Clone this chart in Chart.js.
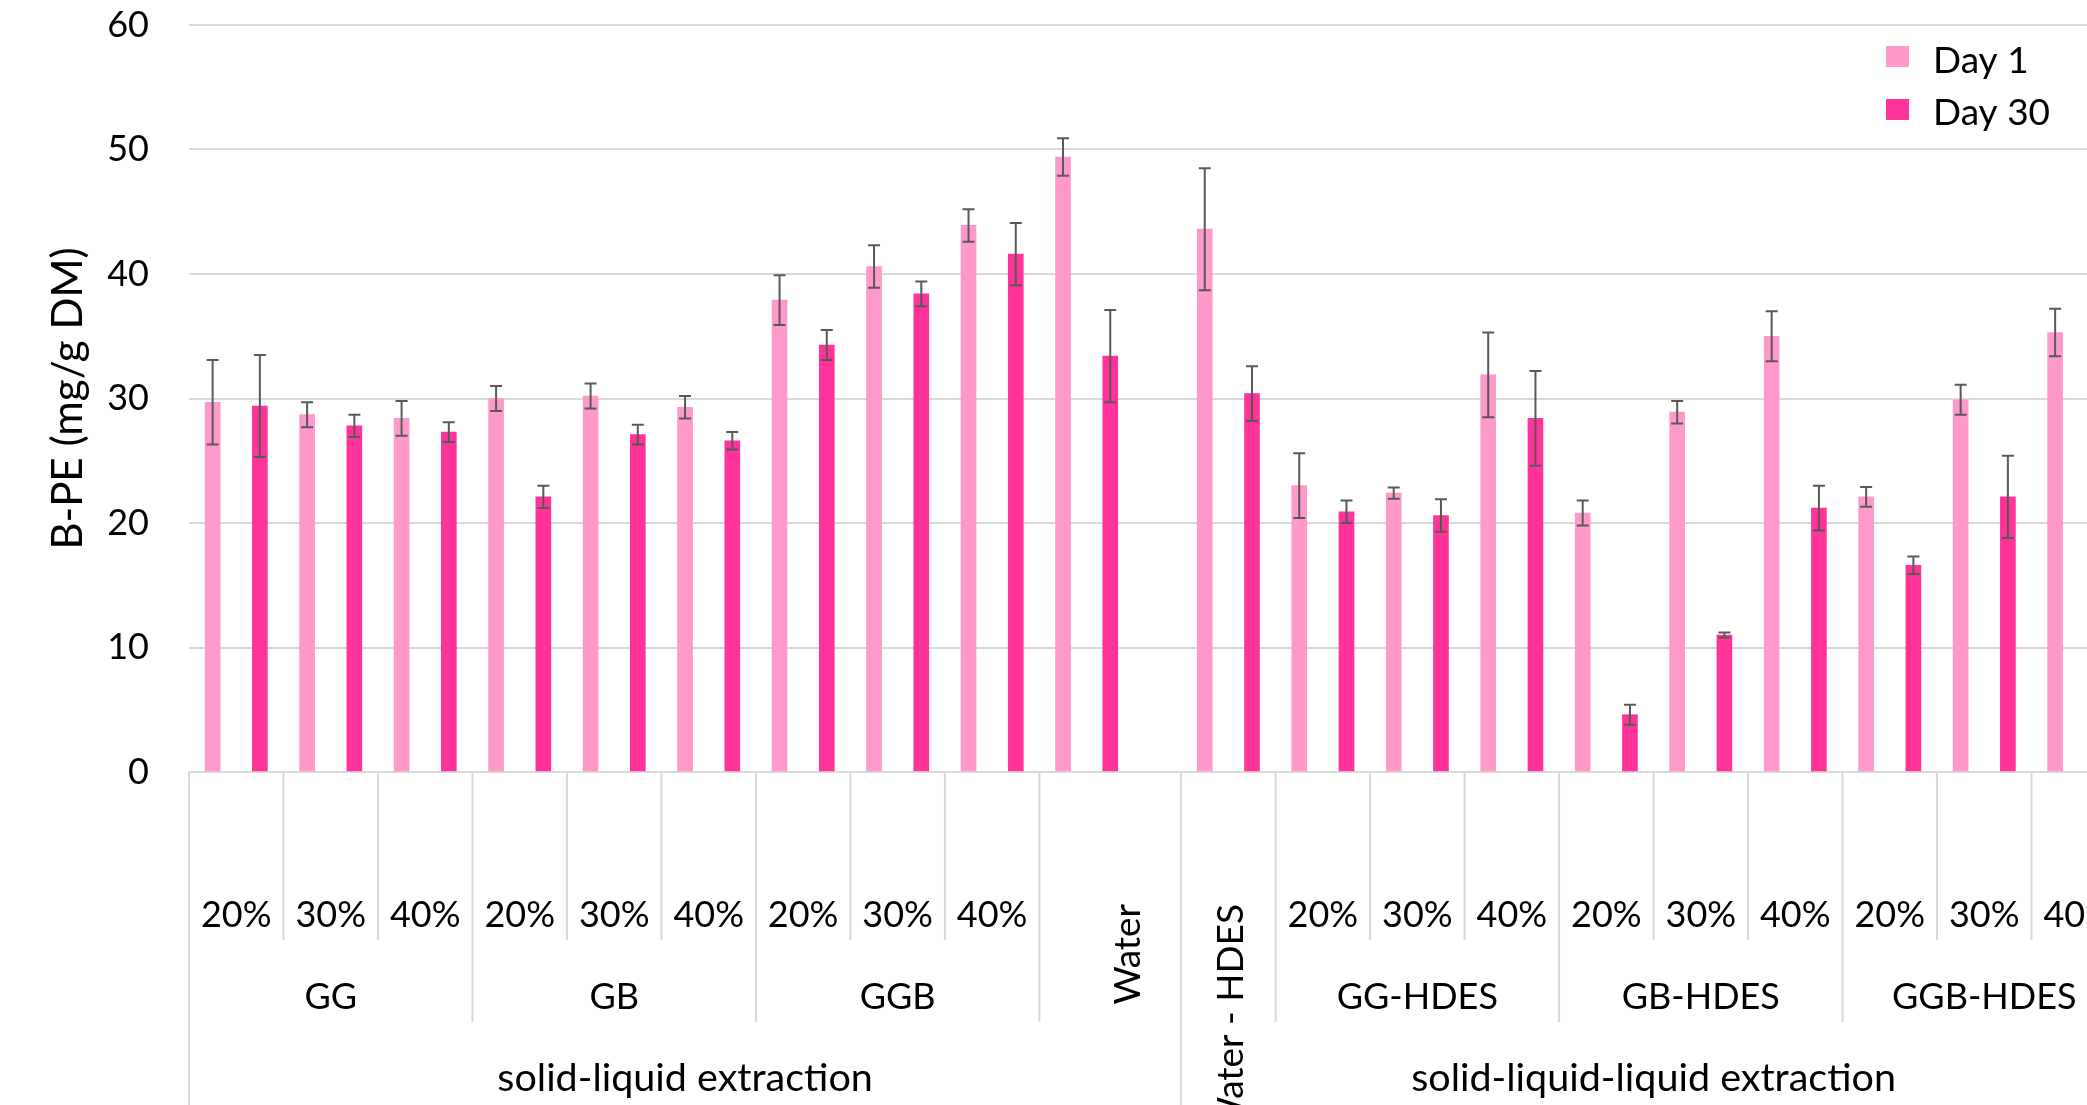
<!DOCTYPE html>
<html>
  <head>
    <script src="https://cdn.jsdelivr.net/npm/chart.js@4.4.0/dist/chart.umd.min.js"></script>
    <style>
      html, body { margin: 0; padding: 0; overflow: hidden; background: #fff; }
    </style>
  </head>
  <body>
    <canvas id="bpeChart" width="2126" height="1105"></canvas>
    <script>
      let categories = ['GG 20%', 'GG 30%', 'GG 40%', 'GB 20%', 'GB 30%', 'GB 40%', 'GGB 20%', 'GGB 30%', 'GGB 40%', 'Water',
        'Water - HDES', 'GG-HDES 20%', 'GG-HDES 30%', 'GG-HDES 40%', 'GB-HDES 20%', 'GB-HDES 30%', 'GB-HDES 40%',
        'GGB-HDES 20%', 'GGB-HDES 30%', 'GGB-HDES 40%'];
      let methods = ['solid-liquid extraction', 'solid-liquid-liquid extraction'];
      let methodFirstGroup = ['GG', 'Water - HDES'];
      let seriesNames = ['Day 1', 'Day 30'];
      let day1 = [29.7, 28.7, 28.4, 30.0, 30.2, 29.3, 37.9, 40.6, 43.9, 49.4, 43.6, 23.0, 22.4, 31.9, 20.8, 28.9, 35.0, 22.1, 29.9, 35.3];
      let day1Err = [3.4, 1.0, 1.4, 1.0, 1.0, 0.9, 2.0, 1.7, 1.3, 1.5, 4.9, 2.6, 0.45, 3.4, 1.0, 0.9, 2.0, 0.8, 1.2, 1.9];
      let day30 = [29.4, 27.8, 27.3, 22.1, 27.1, 26.6, 34.3, 38.4, 41.6, 33.4, 30.4, 20.9, 20.6, 28.4, 4.6, 11.0, 21.2, 16.6, 22.1, null];
      let day30Err = [4.1, 0.9, 0.8, 0.9, 0.8, 0.7, 1.2, 1.0, 2.5, 3.7, 2.2, 0.9, 1.3, 3.8, 0.8, 0.2, 1.8, 0.7, 3.3, null];
      let yMax = 60;
      let yStep = 10;

      let colors = ['#FF99CC', '#FF3399'];
      let fontFamily = "Lato, 'Open Sans', sans-serif";

      // one slot per bar, plus an empty slot where the extraction method changes
      let slots = [], slot1 = [], slot30 = [], slotErr1 = [], slotErr30 = [];
      let cats = [];
      let method = -1;
      categories.forEach(function(c, i) {
        let m = c.match(/^(.*) (\d+%)$/);
        let group = m ? m[1] : c;
        let conc = m ? m[2] : '';
        let mi = methodFirstGroup.indexOf(group);
        if (mi >= 0 && (i === 0 || cats[i - 1].group !== group)) {
          if (method >= 0) {
            slots.push(''); slot1.push(null); slot30.push(null); slotErr1.push(null); slotErr30.push(null);
            cats[i - 1].to += 1;
          }
          method = mi;
        }
        let from = slots.length;
        slots.push(c); slot1.push(day1[i]); slot30.push(null); slotErr1.push(day1Err[i]); slotErr30.push(null);
        slots.push(c); slot1.push(null); slot30.push(day30[i]); slotErr1.push(null); slotErr30.push(day30Err[i]);
        cats.push({ group: group, conc: conc, method: method, from: from, to: from + 2 });
      });

      const errorBars = {
        id: 'errorBars',
        afterDatasetsDraw(chart) {
          const ctx = chart.ctx, ys = chart.scales.y;
          const errs = [slotErr1, slotErr30];
          ctx.save();
          ctx.strokeStyle = '#595959';
          ctx.lineWidth = 2;
          chart.data.datasets.forEach(function(ds, d) {
            chart.getDatasetMeta(d).data.forEach(function(bar, k) {
              const v = ds.data[k], e = errs[d][k];
              if (v == null || e == null) return;
              const top = ys.getPixelForValue(v + e), bot = ys.getPixelForValue(v - e);
              ctx.beginPath();
              ctx.moveTo(bar.x, top); ctx.lineTo(bar.x, bot);
              ctx.moveTo(bar.x - 6, top); ctx.lineTo(bar.x + 6, top);
              ctx.moveTo(bar.x - 6, bot); ctx.lineTo(bar.x + 6, bot);
              ctx.stroke();
            });
          });
          ctx.restore();
        }
      };

      const categoryLabels = {
        id: 'categoryLabels',
        afterDraw(chart) {
          const ctx = chart.ctx, xs = chart.scales.x, area = chart.chartArea;
          const slotW = xs.width / slots.length;
          const edge = function(k) { return xs.left + k * slotW; };
          const y0 = area.bottom;
          const H = chart.height;
          ctx.save();
          // separators
          ctx.strokeStyle = '#d9d9d9';
          ctx.lineWidth = 2;
          cats.forEach(function(c, i) {
            const prev = cats[i - 1];
            let end = y0 + 168;
            if (!prev || prev.method !== c.method) end = H;
            else if (prev.group !== c.group) end = y0 + 250;
            const x = edge(c.from);
            ctx.beginPath(); ctx.moveTo(x, y0); ctx.lineTo(x, end); ctx.stroke();
          });
          ctx.fillStyle = '#000';
          ctx.font = '36px ' + fontFamily;
          ctx.textAlign = 'center';
          ctx.textBaseline = 'middle';
          // concentrations
          cats.forEach(function(c) {
            if (c.conc) ctx.fillText(c.conc, (edge(c.from) + edge(c.to)) / 2, y0 + 143);
          });
          // groups
          const seen = {};
          cats.forEach(function(c) {
            if (seen[c.group]) return;
            seen[c.group] = true;
            const members = cats.filter(function(o) { return o.group === c.group; });
            const a = edge(members[0].from), b = edge(members[members.length - 1].to);
            if (c.conc) {
              ctx.fillText(c.group, (a + b) / 2, y0 + 225);
            } else {
              const shift = c.method === 0 ? 18 : 3;
              ctx.save();
              ctx.font = '37px ' + fontFamily;
              ctx.translate((a + b) / 2 + shift, y0 + 132);
              ctx.rotate(-Math.PI / 2);
              ctx.textAlign = 'right';
              ctx.fillText(c.group, 0, 0);
              ctx.restore();
            }
          });
          // extraction methods
          ctx.font = '39.5px ' + fontFamily;
          methods.forEach(function(name, mi) {
            const members = cats.filter(function(o) { return o.method === mi; });
            const a = edge(members[0].from), b = edge(members[members.length - 1].to);
            ctx.fillText(name, (a + b) / 2, y0 + 306);
          });
          // y title
          ctx.save();
          ctx.font = '42px ' + fontFamily;
          ctx.translate(68, (area.top + area.bottom) / 2);
          ctx.rotate(-Math.PI / 2);
          ctx.textAlign = 'center';
          ctx.fillText('B-PE (mg/g DM)', 0, 0);
          ctx.restore();
          // legend
          ctx.font = '37px ' + fontFamily;
          ctx.textAlign = 'left';
          seriesNames.forEach(function(name, d) {
            ctx.fillStyle = colors[d];
            ctx.fillRect(1886, 46 + d * 53, 23, 21);
            ctx.fillStyle = '#000';
            ctx.fillText(name, 1933, 61 + d * 52);
          });
          ctx.restore();
        }
      };

      window.onload = function() {
        window.bpeChart = new Chart(document.getElementById('bpeChart'), {
          type: 'bar',
          data: {
            labels: slots,
            datasets: [
              { label: seriesNames[0], data: slot1, backgroundColor: colors[0], grouped: false, barThickness: 15 },
              { label: seriesNames[1], data: slot30, backgroundColor: colors[1], grouped: false, barThickness: 15 }
            ]
          },
          options: {
            responsive: false,
            animation: false,
            layout: { padding: 0 },
            plugins: { legend: { display: false }, tooltip: { enabled: false } },
            scales: {
              x: {
                ticks: { display: false },
                grid: { display: false },
                border: { display: false },
                afterFit: function(scale) { scale.height = 333; }
              },
              y: {
                min: 0,
                max: yMax,
                ticks: { stepSize: yStep, padding: 40, color: '#000', font: { size: 36, family: fontFamily } },
                grid: { color: '#d9d9d9', lineWidth: 2, drawTicks: false },
                border: { display: false },
                afterFit: function(scale) {
                  scale.width = 189;
                  scale.paddingTop = 25;
                  scale.paddingBottom = 0;
                }
              }
            }
          },
          plugins: [errorBars, categoryLabels]
        });
      };
    </script>
  </body>
</html>
